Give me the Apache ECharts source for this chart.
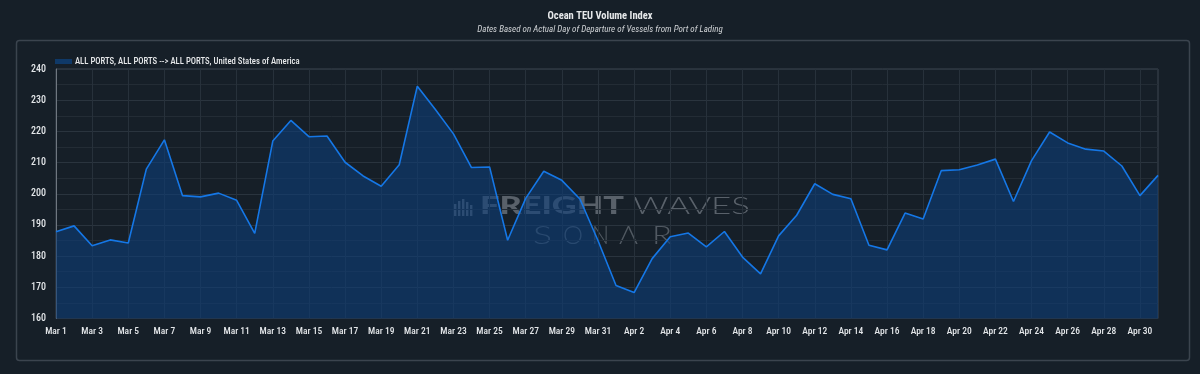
<!DOCTYPE html>
<html>
<head>
<meta charset="utf-8">
<script src="https://cdn.jsdelivr.net/npm/echarts@6/dist/echarts.min.js"></script>
<style>
html,body{margin:0;padding:0;background:#161f28;}
#c{width:1200px;height:374px;}
</style>
</head>
<body>
<div id="c"></div>
<script>
const titleText = 'Ocean TEU Volume Index';
const subtitleText = 'Dates Based on Actual Day of Departure of Vessels from Port of Lading';
const seriesName = 'ALL PORTS, ALL PORTS --> ALL PORTS, United States of America';

const categories = [
  'Mar 1','Mar 2','Mar 3','Mar 4','Mar 5','Mar 6','Mar 7','Mar 8','Mar 9','Mar 10',
  'Mar 11','Mar 12','Mar 13','Mar 14','Mar 15','Mar 16','Mar 17','Mar 18','Mar 19','Mar 20',
  'Mar 21','Mar 22','Mar 23','Mar 24','Mar 25','Mar 26','Mar 27','Mar 28','Mar 29','Mar 30',
  'Mar 31','Apr 1','Apr 2','Apr 3','Apr 4','Apr 5','Apr 6','Apr 7','Apr 8','Apr 9',
  'Apr 10','Apr 11','Apr 12','Apr 13','Apr 14','Apr 15','Apr 16','Apr 17','Apr 18','Apr 19',
  'Apr 20','Apr 21','Apr 22','Apr 23','Apr 24','Apr 25','Apr 26','Apr 27','Apr 28','Apr 29',
  'Apr 30','May 1'
];

const values = [
  187.8, 189.7, 183.3, 185.2, 184.2, 207.9, 217.3, 199.4, 199.0, 200.2,
  197.9, 187.3, 216.9, 223.5, 218.3, 218.5, 210.1, 205.7, 202.4, 209.3,
  234.5, 227.0, 219.2, 208.4, 208.6, 185.1, 198.5, 207.2, 204.3, 198.3,
  185.0, 170.6, 168.3, 179.2, 186.2, 187.4, 183.0, 187.9, 179.7, 174.3,
  186.5, 193.1, 203.2, 199.8, 198.4, 183.5, 182.0, 193.8, 191.9, 207.4,
  207.7, 209.2, 211.1, 197.5, 210.6, 219.8, 216.3, 214.3, 213.7, 208.9,
  199.4, 205.9
];

const yMin = 160, yMax = 240, yStep = 10;

const FONT = '"Roboto Condensed", "Liberation Sans Narrow", Roboto, sans-serif';
const WM_COLOR = 'rgba(170,177,185,0.46)';
const WM_COLOR2 = 'rgba(170,177,185,0.40)';

// watermark helper: text stretched to a target width
const measureCtx = document.createElement('canvas').getContext('2d');
function fitText(text, x, y, targetW, size, weight, family, fill) {
  measureCtx.font = weight + ' ' + size + 'px ' + family;
  const w = measureCtx.measureText(text).width || targetW;
  return {
    type: 'text', x: x, y: y, scaleX: targetW / w, scaleY: 1,
    style: {text: text, x: 0, y: 0, fill: fill, fontSize: size, fontWeight: weight,
            fontFamily: family, verticalAlign: 'top', align: 'left'}
  };
}
const WMF = 'Lato, "Open Sans", sans-serif';
const wmChildren = [
  fitText('FREIGHT', 480, 194.5, 144, 24, 900, WMF, WM_COLOR),
  fitText('WAVES', 633, 194.5, 117, 24, 300, WMF, WM_COLOR),
  fitText('S', 533, 222.5, 19, 26, 300, WMF, WM_COLOR2),
  fitText('O', 563, 222.5, 20, 26, 300, WMF, WM_COLOR2),
  fitText('N', 592, 222.5, 17, 26, 300, WMF, WM_COLOR2),
  fitText('Λ', 619, 222.5, 19, 26, 300, WMF, WM_COLOR2),
  fitText('R', 652, 222.5, 20, 26, 300, WMF, WM_COLOR2)
];
[[454,204],[458,201],[462,199],[466,202],[470,205]].forEach(function (b) {
  wmChildren.push({type: 'rect', shape: {x: b[0], y: b[1], width: 2.4, height: 216 - b[1]}, style: {fill: WM_COLOR}});
});

const chart = echarts.init(document.getElementById('c'), null, {renderer: 'canvas'});
chart.setOption({
  backgroundColor: '#161f28',
  animation: false,
  title: {
    text: titleText,
    subtext: subtitleText,
    left: 'center',
    top: 6,
    itemGap: 3,
    textStyle: {color: '#e6e8ea', fontSize: 10.5, fontWeight: 'bold', fontFamily: FONT},
    subtextStyle: {color: '#d0d3d6', fontSize: 9, fontStyle: 'italic', fontFamily: FONT}
  },
  legend: {
    left: 50,
    top: 52,
    icon: 'rect',
    itemWidth: 17,
    itemHeight: 5,
    itemGap: 10,
    textStyle: {color: '#e6e8ea', fontSize: 8.7, fontWeight: 500, fontFamily: FONT, padding: [0,0,0,-2]},
    data: [seriesName]
  },
  graphic: [
    {
      type: 'rect', z: -1, silent: true,
      shape: {x: 16.5, y: 40.5, width: 1173, height: 320, r: 3},
      style: {fill: 'transparent', stroke: '#3b444e', lineWidth: 1.5}
    },
    {type: 'group', z: 100, silent: true, children: wmChildren}
  ],
  grid: {
    left: 56, right: 42, top: 69, bottom: 55.5,
    show: true,
    borderColor: '#3d4650',
    borderWidth: 1,
    backgroundColor: 'transparent'
  },
  xAxis: {
    type: 'category',
    data: categories,
    boundaryGap: false,
    axisLine: {show: false},
    axisTick: {show: false},
    axisLabel: {interval: 1, color: '#e3e6e9', fontSize: 9.5, fontWeight: 500, fontFamily: FONT, margin: 8},
    splitLine: {show: true, interval: 1, lineStyle: {color: '#27313b', width: 1}}
  },
  yAxis: {
    type: 'value',
    min: yMin, max: yMax, interval: yStep,
    axisLine: {show: true, lineStyle: {color: '#6f7780', width: 1}},
    axisTick: {show: false},
    axisLabel: {color: '#e3e6e9', fontSize: 10, fontWeight: 500, fontFamily: FONT, margin: 10},
    splitLine: {show: true, lineStyle: {color: '#2a343e', width: 1}},
    minorTick: {show: false, splitNumber: 2},
    minorSplitLine: {show: true, lineStyle: {color: '#232c35', width: 1}}
  },
  series: [{
    name: seriesName,
    type: 'line',
    data: values,
    symbol: 'none',
    lineStyle: {color: '#1577e6', width: 1.6},
    itemStyle: {color: '#0f3968', borderColor: '#1577e6'},
    areaStyle: {color: 'rgba(14,62,120,0.85)'}
  }]
});
</script>
</body>
</html>
